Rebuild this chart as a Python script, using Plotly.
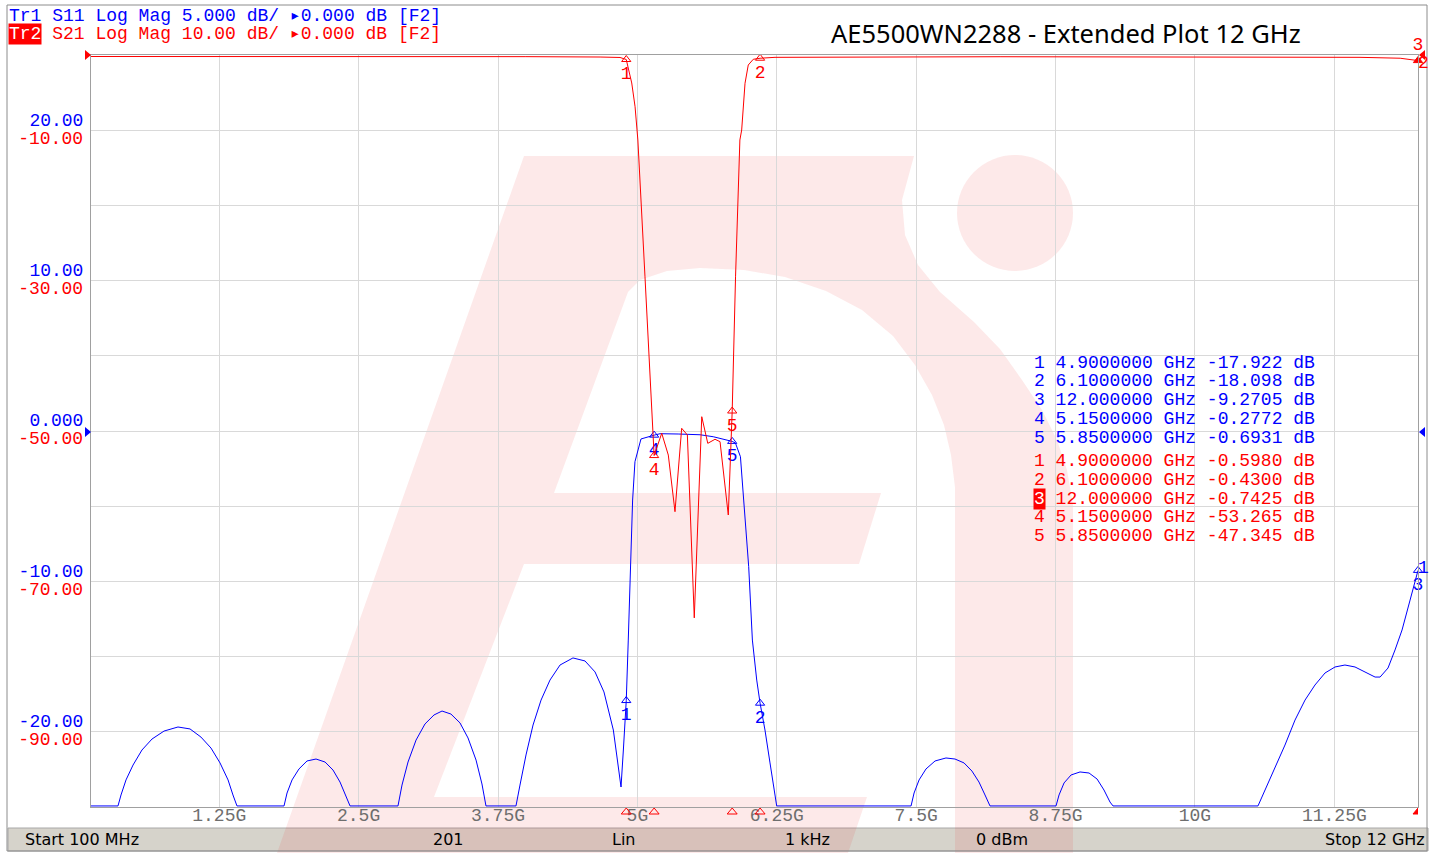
import plotly.graph_objects as go

# ---------------- data ----------------
s11_freq_ghz = [0.1, 0.342, 0.369, 0.414, 0.477, 0.557, 0.647, 0.755, 0.880, 0.988, 1.086, 1.176,
                1.257, 1.329, 1.373, 1.409,
                1.831, 1.858, 1.903, 1.965, 2.037, 2.118, 2.199, 2.270, 2.333, 2.387, 2.423,
                2.853, 2.889, 2.943, 3.015, 3.095, 3.176, 3.248, 3.328, 3.409, 3.481, 3.553,
                3.606, 3.642,
                3.911, 3.947, 4.001, 4.064, 4.136, 4.216, 4.306, 4.422, 4.530, 4.620, 4.700,
                4.784, 4.808, 4.853,
                4.874, 4.889, 4.9, 4.918, 4.939, 4.957, 4.978, 5.032, 5.15, 5.203,
                5.365, 5.562, 5.68, 5.741, 5.815, 5.85, 5.879, 5.924, 5.953, 5.998,
                6.031, 6.070, 6.1, 6.144, 6.189, 6.249,
                7.454, 7.481, 7.526, 7.588, 7.669, 7.767, 7.848, 7.929, 8.000, 8.063, 8.117, 8.162,
                8.754, 8.781, 8.826, 8.889, 8.969, 9.050, 9.122, 9.184, 9.238, 9.265,
                10.565, 10.628, 10.718, 10.807, 10.897, 10.987, 11.076, 11.166, 11.256, 11.345,
                11.435, 11.525, 11.615, 11.660, 11.731, 11.794, 11.857, 11.929, 12.0]
s11_db = [-25, -25, -24.2, -23.2, -22.21, -21.21, -20.48, -19.95, -19.68, -19.81, -20.35, -21.08,
          -22.07, -23.2, -24.2, -25,
          -25, -24.07, -23.2, -22.47, -21.94, -21.81, -22.01, -22.54, -23.34, -24.27, -25,
          -25, -23.54, -22.01, -20.55, -19.48, -18.88, -18.62, -18.82, -19.41, -20.41, -21.88,
          -23.47, -25,
          -25, -23.54, -21.54, -19.55, -17.89, -16.56, -15.56, -15.09, -15.29, -16.02, -17.35,
          -19.88, -21.21, -23.67,
          -21.21, -18.99, -17.922, -13.9, -9.02, -4.59, -2.04, -0.53, -0.2772, -0.18,
          -0.20, -0.25, -0.38, -0.48, -0.60, -0.6931, -0.80, -1.71, -4.59, -9.02,
          -13.9, -16.56, -18.098, -19.88, -22.07, -25,
          -25, -24.07, -23.2, -22.47, -21.94, -21.74, -21.81, -22.07, -22.61, -23.34, -24.2, -25,
          -25, -24.2, -23.4, -22.87, -22.67, -22.74, -23.14, -23.87, -24.67, -25,
          -25, -23.87, -22.41, -20.88, -19.22, -17.89, -16.89, -16.09, -15.69, -15.56,
          -15.69, -16.02, -16.36, -16.36, -15.76, -14.56, -13.23, -11.24, -9.2705]

s21_freq_ghz = [0.1, 1.5, 3.0, 4.0, 4.665, 4.844, 4.9, 4.949, 4.979, 5.004, 5.068, 5.117,
                5.15, 5.218, 5.277, 5.337, 5.397, 5.448, 5.51, 5.577, 5.631, 5.696, 5.741,
                5.815, 5.85, 5.880, 5.919, 5.935, 5.965, 5.994, 6.039, 6.1, 6.234,
                8.252, 10.0, 11.48, 11.84, 12.0]
s21_db = [-0.2, -0.18, -0.2, -0.22, -0.27, -0.33, -0.598, -3.72, -6.88, -11.3, -29.5, -44.7,
          -53.265, -50.3, -53.2, -60.73, -49.64, -50.53, -74.85, -48.1, -51.64, -51.1, -51.42,
          -61.17, -47.345, -29.5, -11.3, -9.97, -3.76, -1.33, -0.57, -0.43, -0.31,
          -0.23, -0.25, -0.31, -0.43, -0.7425]

marker_ids = [1, 2, 3, 4, 5]
marker_freq_ghz = [4.9, 6.1, 12.0, 5.15, 5.85]
marker_s11_db = [-17.922, -18.098, -9.2705, -0.2772, -0.6931]
marker_s21_db = [-0.5980, -0.4300, -0.7425, -53.265, -47.345]
active_s21_marker = 3

x_tick_ghz = [1.25, 2.5, 3.75, 5.0, 6.25, 7.5, 8.75, 10.0, 11.25]
x_tick_text = ["1.25G", "2.5G", "3.75G", "5G", "6.25G", "7.5G", "8.75G", "10G", "11.25G"]
s11_grid_db = [-25, -20, -15, -10, -5, 0, 5, 10, 15, 20, 25]
s11_label_text = ["", "-20.00", "", "-10.00", "", "0.000", "", "10.00", "", "20.00", ""]
s21_label_db = [-90, -70, -50, -30, -10]
s21_label_text = ["-90.00", "-70.00", "-50.00", "-30.00", "-10.00"]

header_tr1 = "Tr1 S11 Log Mag 5.000 dB/ \u25b80.000 dB [F2]"
header_tr2 = "Tr2 S21 Log Mag 10.00 dB/ \u25b80.000 dB [F2]"
chart_title = "AE5500WN2288 - Extended Plot 12 GHz"
status_items = ["Start 100 MHz", "201", "Lin", "1 kHz", "0 dBm", "Stop 12 GHz"]

# ---------------- layout geometry (pixels) ----------------
W, H = 1443, 853
PL, PR, PT, PB = 91, 1418, 55, 807
MONO = "Liberation Mono, DejaVu Sans Mono, monospace"
BLUE = "#0000ff"
RED = "#ff0000"


def px(x):
    return (x - PL) / (PR - PL)


def py(y):
    return (PB - y) / (PB - PT)


def pt(x, y):
    return f"{px(x):.5f},{py(y):.5f}"


def fmt_freq(f):
    d = len(str(int(f)))
    return f"{f:.{8 - d}f}"


def fmt_db(v):
    d = len(str(int(abs(v))))
    return f"{v:.{5 - d}f}"


fig = go.Figure()

# S11 trace (display clamped at the bottom edge like the analyser does)
s11_plot = [max(v, -24.93) for v in s11_db]
fig.add_trace(go.Scatter(x=s11_freq_ghz, y=s11_plot, mode="lines",
                         line=dict(color=BLUE, width=1), yaxis="y", hoverinfo="skip"))
fig.add_trace(go.Scatter(x=s21_freq_ghz, y=s21_db, mode="lines",
                         line=dict(color=RED, width=1), yaxis="y2", hoverinfo="skip"))

# marker symbols on traces
fig.add_trace(go.Scatter(
    x=marker_freq_ghz, y=marker_s11_db, yaxis="y", mode="markers+text",
    text=[str(i) for i in marker_ids], textposition="bottom center",
    textfont=dict(family=MONO, size=18, color=BLUE),
    marker=dict(symbol="triangle-up-open", size=8, color=BLUE, line=dict(width=1, color=BLUE)),
    cliponaxis=False, hoverinfo="skip"))
fig.add_trace(go.Scatter(
    x=marker_freq_ghz, y=marker_s21_db, yaxis="y2", mode="markers+text",
    text=[str(i) for i in marker_ids],
    textposition=["top center" if i == active_s21_marker else "bottom center" for i in marker_ids],
    textfont=dict(family=MONO, size=18, color=RED),
    marker=dict(symbol=["triangle-up" if i == active_s21_marker else "triangle-up-open" for i in marker_ids],
                size=8, color=RED, line=dict(width=1, color=RED)),
    cliponaxis=False, hoverinfo="skip"))

# ---------------- shapes ----------------
shapes = []
# status bar
shapes.append(dict(type="rect", xref="paper", yref="paper", layer="below",
                   x0=px(8), x1=px(1428), y0=py(828), y1=py(851),
                   fillcolor="#d6d3cb", line=dict(color="#a8a8a8", width=1)))
# watermark logo
logo = [(277, 853), (524, 156), (914, 156), (902, 200), (905, 235), (918, 265), (940, 292),
        (974, 322), (1000, 349), (1022, 380), (1042, 410), (1057, 440), (1067, 470),
        (1073, 505), (1073, 853), (955, 853), (955, 487), (951, 455), (944, 425), (932, 395),
        (915, 365), (893, 336), (862, 310), (826, 291), (785, 277), (744, 270), (700, 268),
        (667, 271), (640, 280), (628, 292),
        (554, 493), (881, 493), (859, 564), (524, 564), (434, 797), (867, 797), (848, 853)]
path = "M " + " L ".join(pt(x, y) for x, y in logo) + " Z"
shapes.append(dict(type="path", xref="paper", yref="paper", layer="below", path=path,
                   fillcolor="rgba(235,40,40,0.10)", line=dict(width=0)))
shapes.append(dict(type="circle", xref="paper", yref="paper", layer="below",
                   x0=px(957), x1=px(1073), y0=py(271), y1=py(155),
                   fillcolor="rgba(235,40,40,0.10)", line=dict(width=0)))
# outer frame
shapes.append(dict(type="rect", xref="paper", yref="paper", layer="above",
                   x0=px(7), x1=px(1427), y0=py(851), y1=py(5),
                   fillcolor="rgba(0,0,0,0)", line=dict(color="#8c8c8c", width=1)))


# reference-position arrows
def tri_right(cx, cy):
    return "M " + pt(cx - 3, cy - 5) + " L " + pt(cx + 3, cy) + " L " + pt(cx - 3, cy + 5) + " Z"


def tri_left(cx, cy):
    return "M " + pt(cx + 3, cy - 5) + " L " + pt(cx - 3, cy) + " L " + pt(cx + 3, cy + 5) + " Z"


for path_s, col in [(tri_right(88, 55), RED), (tri_right(88, 432), BLUE),
                    (tri_left(1422, 432), BLUE), (tri_left(1422, 55), RED)]:
    shapes.append(dict(type="path", xref="paper", yref="paper", layer="above", path=path_s,
                       fillcolor=col, line=dict(width=0)))

# stimulus indicators just below the x axis (one per marker frequency)
for i, f in zip(marker_ids, marker_freq_ghz):
    active = i == active_s21_marker
    shapes.append(dict(type="path", xref="x", yref="paper", layer="above",
                       xsizemode="pixel", xanchor=f, ysizemode="pixel", yanchor=0,
                       path="M -5,-7 L 0,-1 L 5,-7 Z",
                       fillcolor=RED if active else "rgba(0,0,0,0)",
                       line=dict(color=RED, width=1)))

# ---------------- annotations ----------------
ann = []


def text_at(x, y, s, color, family=MONO, size=18, xanchor="left", bg=None):
    d = dict(xref="paper", yref="paper", x=px(x), y=py(y), text=s, showarrow=False,
             xanchor=xanchor, yanchor="middle", borderpad=0,
             font=dict(family=family, size=size, color=color))
    if bg:
        d["bgcolor"] = bg
    ann.append(d)


text_at(8, 15.5, header_tr1, BLUE)
text_at(8, 34, header_tr2, RED)
text_at(8, 34, header_tr2[:3], "white", bg=RED)
text_at(830, 33, chart_title, "black", family="Noto Sans, Open Sans, sans-serif", size=25.5)

blue_rows_y = [362.5, 381.4, 400.3, 419.1, 438]
red_rows_y = [461, 479.8, 498.5, 517.3, 536]
for i, f, v, yy in zip(marker_ids, marker_freq_ghz, marker_s11_db, blue_rows_y):
    text_at(1033, yy, f"{i} {fmt_freq(f)} GHz {fmt_db(v)} dB", BLUE)
for i, f, v, yy in zip(marker_ids, marker_freq_ghz, marker_s21_db, red_rows_y):
    text_at(1033, yy, f"{i} {fmt_freq(f)} GHz {fmt_db(v)} dB", RED)
    if i == active_s21_marker:
        text_at(1033, yy, str(i), "white", bg=RED)

# trace end labels at right edge
ann.append(dict(x=s11_freq_ghz[-1], y=s11_plot[-1], xref="x", yref="y", text="1", showarrow=False,
                xanchor="left", yanchor="middle", xshift=-2, yshift=2,
                font=dict(family=MONO, size=18, color=BLUE)))
ann.append(dict(x=s21_freq_ghz[-1], y=s21_db[-1], xref="x", yref="y2", text="2", showarrow=False,
                xanchor="left", yanchor="middle", xshift=-2, yshift=-2,
                font=dict(family=MONO, size=18, color=RED)))

status_x = [24, 448, 624, 807, 1002, 1426]
status_anchor = ["left", "center", "center", "center", "center", "right"]
for s, xx, xa in zip(status_items, status_x, status_anchor):
    text_at(xx, 839.5, s, "black", family="DejaVu Sans, sans-serif", size=16, xanchor=xa)

fig.update_layout(
    width=W, height=H,
    margin=dict(l=PL, r=W - PR, t=PT, b=H - PB, pad=0),
    paper_bgcolor="white", plot_bgcolor="rgba(0,0,0,0)",
    showlegend=False,
    xaxis=dict(range=[0.1, 12], tickvals=x_tick_ghz, ticktext=x_tick_text,
               tickfont=dict(family=MONO, size=18, color="#6e6e6e"),
               showgrid=True, gridcolor="#d9d9d9", gridwidth=1, zeroline=False,
               showline=True, mirror=True, linecolor="#a0a0a0", linewidth=1,
               ticks="", ticklabelstandoff=-9, fixedrange=True),
    yaxis=dict(range=[-25, 25], tickvals=s11_grid_db, ticktext=s11_label_text,
               tickfont=dict(family=MONO, size=18, color=BLUE),
               showgrid=True, gridcolor="#d9d9d9", gridwidth=1, zeroline=False,
               showline=True, mirror=True, linecolor="#a0a0a0", linewidth=1,
               ticks="", ticklabelshift=-11, ticklabelstandoff=3, fixedrange=True),
    yaxis2=dict(range=[-100, 0], overlaying="y", side="left", tickvals=s21_label_db,
                ticktext=s21_label_text, tickfont=dict(family=MONO, size=18, color=RED),
                showgrid=False, zeroline=False, showline=False, ticks="",
                ticklabelshift=7, ticklabelstandoff=7, fixedrange=True),
    shapes=shapes, annotations=ann,
)

fig.write_html("out.html", include_plotlyjs=True,
               config={"displayModeBar": False, "staticPlot": True},
               post_script="document.body.style.margin='0';document.body.style.overflow='hidden';")
